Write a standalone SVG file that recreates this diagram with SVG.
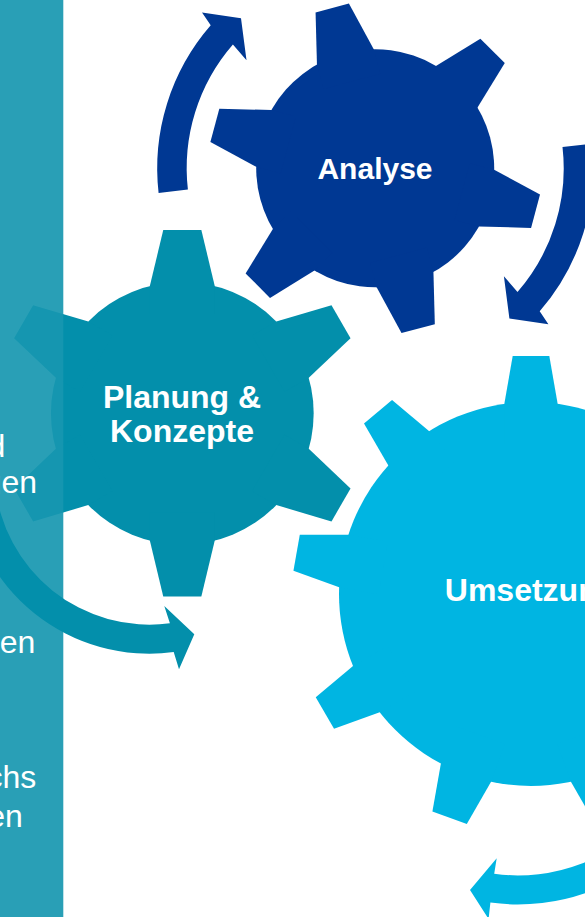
<svg xmlns="http://www.w3.org/2000/svg" width="585" height="917" viewBox="0 0 585 917">
  <style>
    .lbl{font-family:"Liberation Sans",Arial,sans-serif;font-weight:bold;font-size:32px;fill:#ffffff;text-anchor:middle}
    .side{font-family:"Liberation Sans",Arial,sans-serif;font-size:32px;fill:#ffffff;text-anchor:end}
  </style>
  <defs>
    <!-- six-tooth gear, unit size -->
    <path id="t6" d="M-17.25,-166 L17.25,-166 L29.4,-115.3 L29.4,-90 L-29.4,-90 L-29.4,-115.3 Z"/>
    <g id="g6">
      <circle r="119"/>
      <use href="#t6"/>
      <use href="#t6" transform="rotate(60)"/>
      <use href="#t6" transform="rotate(120)"/>
      <use href="#t6" transform="rotate(180)"/>
      <use href="#t6" transform="rotate(240)"/>
      <use href="#t6" transform="rotate(300)"/>
    </g>
    <!-- nine-tooth gear -->
    <path id="t9" d="M-18.3,-238 L18.3,-238 L26.7,-190.1 L26.7,-150 L-26.7,-150 L-26.7,-190.1 Z"/>
    <g id="g9">
      <circle r="192"/>
      <use href="#t9"/>
      <use href="#t9" transform="rotate(40)"/>
      <use href="#t9" transform="rotate(80)"/>
      <use href="#t9" transform="rotate(120)"/>
      <use href="#t9" transform="rotate(160)"/>
      <use href="#t9" transform="rotate(200)"/>
      <use href="#t9" transform="rotate(240)"/>
      <use href="#t9" transform="rotate(280)"/>
      <use href="#t9" transform="rotate(320)"/>
    </g>
  </defs>

  <rect width="585" height="917" fill="#ffffff"/>

  <g id="analyse">
    <use href="#g6" transform="translate(375.2 168.3) rotate(-15)" fill="#003893"/>
    <text class="lbl" x="375" y="179.3" style="font-size:30px">Analyse</text>
  </g>

  <g id="planung">
    <use href="#g6" transform="translate(182.3 413.3) scale(1.104)" fill="#038fab"/>
  </g>

  <g id="umsetzung">
    <use href="#g9" transform="translate(531 594)" fill="#00b5e2"/>
    <text class="lbl" x="531" y="600.7">Umsetzung</text>
  </g>

  <!-- side panel over the left edge -->
  <rect id="panel" x="0" y="0" width="63.3" height="917" fill="#1797b0" fill-opacity="0.92"/>

  <g id="connectors">
    <path fill="#003893" d="M158.6,193.0 A218,218 0 0,1 210.7,25.3 L202.0,12.4 L241.0,18.2 L246.5,60.3 L232.9,44.6 A188.5,188.5 0 0,0 187.9,189.6 Z"/>
    <path fill="#003893" transform="rotate(180 375.2 168.3)" d="M158.6,193.0 A218,218 0 0,1 210.7,25.3 L202.0,12.4 L241.0,18.2 L246.5,60.3 L232.9,44.6 A188.5,188.5 0 0,0 187.9,189.6 Z"/>
    <path fill="#038fab" d="M-33.9,485.7 A184,184 0 0,0 173.7,652.1 L179,669.3 L194.3,634.3 L164.3,606 L169.9,623.3 A155,155 0 0,1 -5.0,483.2 Z"/>
    <path fill="#00b5e2" d="M653.7,812.0 A177.5,177.5 0 0,1 494.2,873.8 L496.7,858.3 L470,890 L488.6,919 L490.4,902.6 A206.5,206.5 0 0,0 675.9,830.6 Z"/>
  </g>

  <g id="planung-label">
    <text class="lbl" x="182" y="408.3">Planung &amp;</text>
    <text class="lbl" x="182" y="441.7">Konzepte</text>
  </g>

  <g id="panel-text">
    <text class="side" x="5.4" y="456.7">d</text>
    <text class="side" x="37.1" y="493">gen</text>
    <text class="side" x="35.4" y="653">en</text>
    <text class="side" x="36.2" y="788.3">chs</text>
    <text class="side" x="22.8" y="826.7">en</text>
  </g>
</svg>
